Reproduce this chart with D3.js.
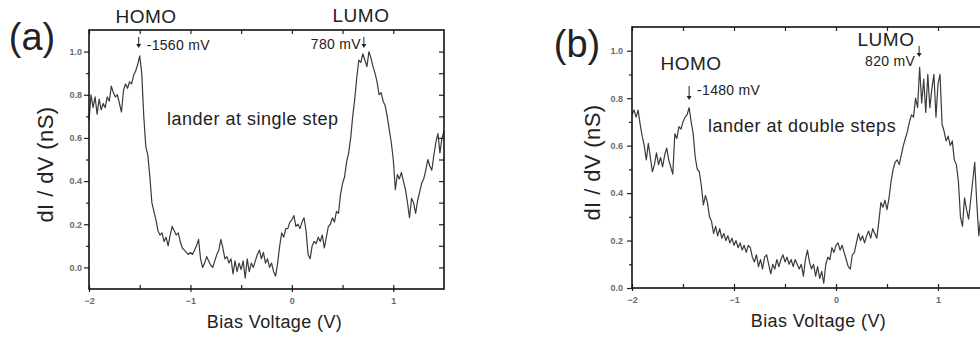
<!DOCTYPE html>
<html>
<head>
<meta charset="utf-8">
<script src="https://cdn.jsdelivr.net/npm/d3@7"></script>
<style>
  body { margin: 0; background: #fff; overflow: hidden; }
  svg { display: block; }
  text { font-family: "Liberation Sans", Arial, sans-serif; }
</style>
</head>
<body>
<div id="chart"></div>
<script>
// bias sweep, -2 V to 1.5 V in 20 mV steps
const bias = d3.range(-2, 1.5001, 0.02);

// dI/dV (nS), lander at single step
const singleStep = [
  0.68, 0.80, 0.74, 0.79, 0.71, 0.78, 0.73, 0.76, 0.74, 0.79,
  0.77, 0.84, 0.81, 0.79, 0.80, 0.76, 0.72, 0.82, 0.85, 0.83,
  0.86, 0.85, 0.89, 0.91, 0.94, 0.98, 0.90, 0.70, 0.56, 0.52,
  0.42, 0.30, 0.26, 0.22, 0.17, 0.15, 0.16, 0.12, 0.14, 0.10,
  0.15, 0.19, 0.17, 0.15, 0.16, 0.12, 0.09, 0.08, 0.07, 0.06,
  0.07, 0.06, 0.08, 0.10, 0.13, 0.04, 0.00, 0.02, 0.05, 0.03,
  0.01, 0.00, 0.03, 0.06, 0.08, 0.13, 0.09, 0.04, 0.05, 0.02,
  0.04, -0.03, 0.03, -0.02, 0.02, -0.01, 0.03, -0.05, 0.04, -0.02,
  0.02, 0.00, 0.03, 0.06, 0.08, 0.04, 0.07, 0.02, 0.04, 0.00,
  0.02, -0.02, -0.04, 0.02, 0.10, 0.16, 0.14, 0.18, 0.18, 0.21,
  0.22, 0.24, 0.19, 0.20, 0.18, 0.21, 0.23, 0.17, 0.06, 0.04,
  0.10, 0.12, 0.11, 0.14, 0.12, 0.15, 0.09, 0.14, 0.19, 0.20,
  0.23, 0.21, 0.26, 0.25, 0.34, 0.39, 0.42, 0.49, 0.53, 0.60,
  0.70, 0.78, 0.88, 0.96, 0.95, 0.99, 0.96, 0.93, 1.00, 0.97,
  0.93, 0.90, 0.86, 0.80, 0.81, 0.77, 0.75, 0.70, 0.64, 0.58,
  0.50, 0.36, 0.43, 0.41, 0.44, 0.40, 0.36, 0.30, 0.23, 0.32,
  0.30, 0.25, 0.31, 0.35, 0.39, 0.41, 0.45, 0.50, 0.47, 0.45,
  0.52, 0.58, 0.62, 0.53, 0.60, 0.63
];

// dI/dV (nS), lander at double steps
const doubleSteps = [
  0.73, 0.75, 0.72, 0.75, 0.69, 0.64, 0.60, 0.54, 0.61, 0.55,
  0.49, 0.52, 0.57, 0.52, 0.55, 0.51, 0.56, 0.59, 0.54, 0.51,
  0.48, 0.65, 0.63, 0.68, 0.67, 0.70, 0.72, 0.73, 0.76, 0.70,
  0.65, 0.55, 0.50, 0.49, 0.43, 0.35, 0.39, 0.36, 0.30, 0.28,
  0.23, 0.26, 0.22, 0.25, 0.21, 0.23, 0.20, 0.22, 0.19, 0.21,
  0.18, 0.20, 0.17, 0.19, 0.16, 0.18, 0.15, 0.18, 0.17, 0.13,
  0.11, 0.14, 0.09, 0.12, 0.08, 0.13, 0.14, 0.10, 0.06, 0.10,
  0.08, 0.12, 0.09, 0.12, 0.14, 0.11, 0.13, 0.10, 0.12, 0.09,
  0.12, 0.10, 0.08, 0.10, 0.05, 0.12, 0.16, 0.11, 0.08, 0.10,
  0.05, 0.09, 0.04, 0.07, 0.02, 0.10, 0.13, 0.12, 0.17, 0.15,
  0.18, 0.19, 0.16, 0.18, 0.15, 0.12, 0.09, 0.08, 0.14, 0.15,
  0.19, 0.23, 0.20, 0.22, 0.19, 0.22, 0.24, 0.21, 0.25, 0.23,
  0.21, 0.28, 0.36, 0.34, 0.37, 0.33, 0.38, 0.45, 0.50, 0.53,
  0.54, 0.52, 0.56, 0.60, 0.63, 0.66, 0.70, 0.73, 0.72, 0.80,
  0.76, 0.93, 0.78, 0.88, 0.74, 0.90, 0.76, 0.84, 0.90, 0.72,
  0.86, 0.90, 0.69, 0.66, 0.62, 0.64, 0.60, 0.62, 0.54, 0.52,
  0.45, 0.30, 0.26, 0.38, 0.33, 0.29, 0.37, 0.45, 0.53, 0.36,
  0.22, 0.30, 0.42, 0.48, 0.40, 0.45
];

const xMajorTicks = [-2, -1, 0, 1];
const xMinorTicks = [-1.5, -0.5, 0.5];
const yMajorTicks = [0, 0.2, 0.4, 0.6, 0.8, 1.0];
const yMinorTicks = [0.1, 0.3, 0.5, 0.7, 0.9];

// peak markers: bias of the arrow and its label
const singlePeaks = [-1.51, 0.71];
const singlePeakLabels = ['-1560 mV', '780 mV'];
const doublePeaks = [-1.44, 0.815];
const doublePeakLabels = ['-1480 mV', '820 mV'];

const W = 980, H = 338;
const svg = d3.select('#chart').append('svg')
  .attr('width', W).attr('height', H)
  .style('overflow', 'hidden');

const panels = [
  {
    values: singleStep, peaks: singlePeaks, peakLabels: singlePeakLabels,
    left: 89, top: 30, width: 355, height: 259, yDomain: [-0.1, 1.1],
    letter: '(a)', letterX: 32, letterY: 50,
    homo: [146, 23], lumo: [361, 22],
    note: 'lander at single step', noteX: 167, noteY: 125,
    arrows: [
      { y1: 37, y2: 48, dx: 8, ty: 50, anchor: 'start' },
      { y1: 37, y2: 48, dx: -3, ty: 49, anchor: 'end' }
    ],
    yTitleDx: 36, labelGap: 7
  },
  {
    values: doubleSteps, peaks: doublePeaks, peakLabels: doublePeakLabels,
    left: 632, top: 27, width: 357, height: 261, yDomain: [0, 1.1],
    letter: '(b)', letterX: 577, letterY: 57,
    homo: [691, 70], lumo: [886, 46],
    note: 'lander at double steps', noteX: 708, noteY: 132,
    arrows: [
      { y1: 86, y2: 100, dx: 8, ty: 95, anchor: 'start' },
      { y1: 46, y2: 57, dx: -4, ty: 66, anchor: 'end' }
    ],
    yTitleDx: 32, labelGap: 9
  }
];

panels.forEach(p => {
  const x = d3.scaleLinear().domain([-2, 1.5]).range([0, p.width]);
  const y = d3.scaleLinear().domain(p.yDomain).range([p.height, 0]);
  const g = svg.append('g').attr('transform', `translate(${p.left},${p.top})`);

  // curve
  const line = d3.line()
    .x((d, i) => x(bias[i]))
    .y(d => y(d));
  g.append('path')
    .datum(p.values)
    .attr('fill', 'none')
    .attr('stroke', '#3a3a3a')
    .attr('stroke-width', 1.2)
    .attr('stroke-linejoin', 'round')
    .attr('d', line);

  // axes: left (out), bottom (major crossing), top and right (in)
  const styleAxis = sel => {
    sel.select('.domain').remove();
    sel.selectAll('line').attr('stroke', '#222').attr('stroke-width', 1.2);
    sel.selectAll('text')
      .style('font-size', '9px')
      .style('font-weight', 'bold')
      .attr('fill', '#6a6a6a');
  };

  g.append('g').call(d3.axisLeft(y).tickValues(yMajorTicks).tickSize(5)
      .tickPadding(p.labelGap - 5).tickFormat(d3.format('.1f')))
    .call(styleAxis);
  g.append('g').call(d3.axisLeft(y).tickValues(yMinorTicks).tickSize(3).tickFormat(''))
    .call(styleAxis);
  g.append('g').attr('transform', `translate(${p.width},0)`)
    .call(d3.axisLeft(y).tickValues(yMajorTicks.concat(yMinorTicks)).tickSize(5).tickFormat(''))
    .call(styleAxis);

  g.append('g').attr('transform', `translate(0,${p.height})`)
    .call(d3.axisBottom(x).tickValues(xMajorTicks).tickSize(3).tickPadding(6)
      .tickFormat(d3.format('d')))
    .call(styleAxis);
  g.append('g').attr('transform', `translate(0,${p.height})`)
    .call(d3.axisTop(x).tickValues(xMajorTicks.concat(xMinorTicks)).tickSize(4).tickFormat(''))
    .call(styleAxis);
  g.append('g')
    .call(d3.axisBottom(x).tickValues(xMajorTicks.concat(xMinorTicks)).tickSize(4).tickFormat(''))
    .call(styleAxis);

  // frame
  g.append('rect')
    .attr('width', p.width).attr('height', p.height)
    .attr('fill', 'none').attr('stroke', '#111').attr('stroke-width', 1.6);

  // axis titles
  g.append('text')
    .attr('x', p.width / 2 + 8).attr('y', p.height + 39)
    .attr('text-anchor', 'middle')
    .style('font-size', '18px').style('letter-spacing', '0.4px')
    .attr('fill', '#222')
    .text('Bias Voltage (V)');
  g.append('text')
    .attr('transform', `translate(${-p.yTitleDx},${p.height / 2 + 5}) rotate(-90)`)
    .attr('text-anchor', 'middle')
    .style('font-size', '22px').style('letter-spacing', '0.4px')
    .attr('fill', '#222')
    .text('dI / dV (nS)');

  // peak arrows and labels
  p.peaks.forEach((v, k) => {
    const a = p.arrows[k];
    const ax = p.left + x(v);
    svg.append('line')
      .attr('x1', ax).attr('x2', ax)
      .attr('y1', a.y1).attr('y2', a.y2 - 3)
      .attr('stroke', '#222').attr('stroke-width', 1);
    svg.append('path')
      .attr('d', `M${ax - 2.5},${a.y2 - 4}L${ax + 2.5},${a.y2 - 4}L${ax},${a.y2}Z`)
      .attr('fill', '#222');
    svg.append('text')
      .attr('x', ax + a.dx).attr('y', a.ty)
      .attr('text-anchor', a.anchor)
      .style('font-size', '14px').style('letter-spacing', '0.3px')
      .attr('fill', '#222')
      .text(p.peakLabels[k]);
  });

  // panel letter, HOMO / LUMO, note
  svg.append('text')
    .attr('x', p.letterX).attr('y', p.letterY)
    .attr('text-anchor', 'middle')
    .style('font-size', '38px')
    .attr('fill', '#222')
    .text(p.letter);
  svg.append('text')
    .attr('x', p.homo[0]).attr('y', p.homo[1])
    .attr('text-anchor', 'middle')
    .style('font-size', '19px').style('letter-spacing', '0.5px')
    .attr('fill', '#222')
    .text('HOMO');
  svg.append('text')
    .attr('x', p.lumo[0]).attr('y', p.lumo[1])
    .attr('text-anchor', 'middle')
    .style('font-size', '19px').style('letter-spacing', '0.5px')
    .attr('fill', '#222')
    .text('LUMO');
  svg.append('text')
    .attr('x', p.noteX).attr('y', p.noteY)
    .style('font-size', '18px').style('letter-spacing', '0.5px')
    .attr('fill', '#222')
    .text(p.note);
});
</script>
</body>
</html>
